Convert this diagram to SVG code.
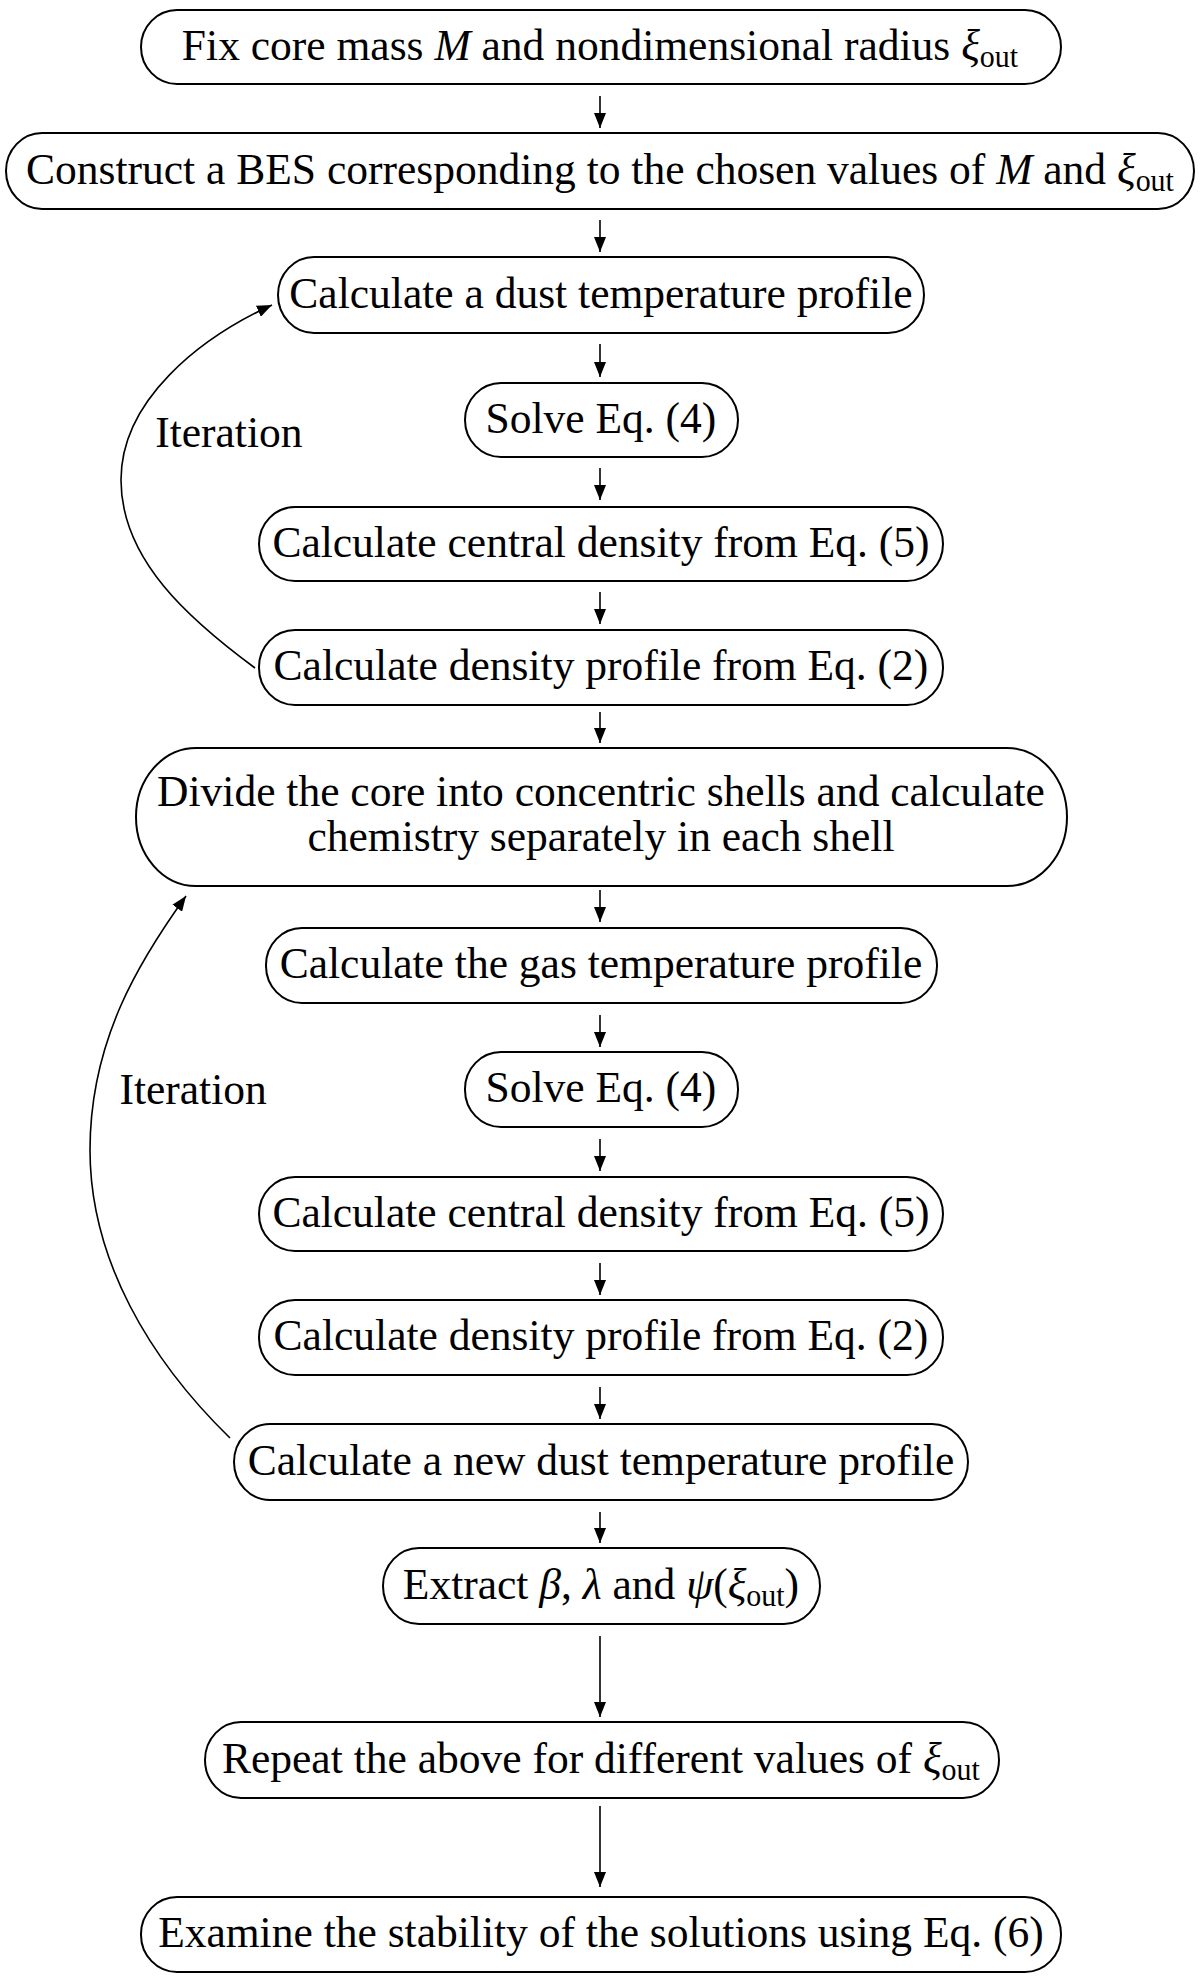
<svg xmlns="http://www.w3.org/2000/svg" width="1200" height="1976" viewBox="0 0 1200 1976">
<defs>
<style>
.box{fill:#fff;stroke:#000;stroke-width:2}
.t{font-family:"Liberation Serif","Times New Roman",serif;font-size:45px;fill:#000;text-anchor:middle}
.lbl{font-family:"Liberation Serif","Times New Roman",serif;font-size:45px;fill:#000}
.i{font-style:italic}
.s{font-size:31px}
.c{fill:none;stroke:#000;stroke-width:1.6}
</style>
<marker id="ah" markerUnits="userSpaceOnUse" markerWidth="16" markerHeight="12" refX="15" refY="6" orient="auto">
<path d="M0,0 L15,6 L0,12 Z" fill="#000"/>
</marker>
</defs>
<rect width="1200" height="1976" fill="#fff"/>
<g id="connectors">
<line class="c" x1="600" y1="96" x2="600" y2="128" marker-end="url(#ah)"/>
<line class="c" x1="600" y1="220" x2="600" y2="252" marker-end="url(#ah)"/>
<line class="c" x1="600" y1="344" x2="600" y2="377" marker-end="url(#ah)"/>
<line class="c" x1="600" y1="468" x2="600" y2="500" marker-end="url(#ah)"/>
<line class="c" x1="600" y1="592" x2="600" y2="624" marker-end="url(#ah)"/>
<line class="c" x1="600" y1="712" x2="600" y2="743" marker-end="url(#ah)"/>
<line class="c" x1="600" y1="890" x2="600" y2="922" marker-end="url(#ah)"/>
<line class="c" x1="600" y1="1015" x2="600" y2="1047" marker-end="url(#ah)"/>
<line class="c" x1="600" y1="1139" x2="600" y2="1171" marker-end="url(#ah)"/>
<line class="c" x1="600" y1="1263" x2="600" y2="1295" marker-end="url(#ah)"/>
<line class="c" x1="600" y1="1387" x2="600" y2="1419" marker-end="url(#ah)"/>
<line class="c" x1="600" y1="1512" x2="600" y2="1543" marker-end="url(#ah)"/>
<line class="c" x1="600" y1="1636" x2="600" y2="1717" marker-end="url(#ah)"/>
<line class="c" x1="600" y1="1806" x2="600" y2="1887" marker-end="url(#ah)"/>
<path class="c" d="M255,668 C190,620 121,560 121,480 C121,400 200,338 272,305" marker-end="url(#ah)"/>
<path class="c" d="M230,1438 C150,1360 90,1260 90,1150 C90,1040 140,960 186,896" marker-end="url(#ah)"/>
<text class="lbl" x="140" y="447" transform="matrix(0.967 0 0 1 19.8 0)">Iteration</text>
<text class="lbl" x="103" y="1104" transform="matrix(0.967 0 0 1 19.8 0)">Iteration</text>
</g>
<g id="n1"><rect class="box" x="141" y="10" width="920" height="74" rx="36" ry="37"/>
<text class="t" x="600" y="60" transform="matrix(0.967 0 0 1 19.8 0)">Fix core mass <tspan class="i">M</tspan> and nondimensional radius <tspan class="i">ξ</tspan><tspan class="s" dy="7">out</tspan></text></g>
<g id="n2"><rect class="box" x="6" y="133" width="1188" height="76" rx="36" ry="38"/>
<text class="t" x="600" y="184" transform="matrix(0.967 0 0 1 19.8 0)">Construct a BES corresponding to the chosen values of <tspan class="i">M</tspan> and <tspan class="i">ξ</tspan><tspan class="s" dy="7">out</tspan></text></g>
<g id="n3"><rect class="box" x="278" y="257" width="646" height="76" rx="36" ry="38"/>
<text class="t" x="601" y="308" transform="matrix(0.967 0 0 1 19.8 0)">Calculate a dust temperature profile</text></g>
<g id="n4"><rect class="box" x="465" y="383" width="273" height="74" rx="36" ry="37"/>
<text class="t" x="601" y="433" transform="matrix(0.967 0 0 1 19.8 0)">Solve Eq. (4)</text></g>
<g id="n5"><rect class="box" x="259" y="507" width="684" height="74" rx="36" ry="37"/>
<text class="t" x="601" y="557" transform="matrix(0.967 0 0 1 19.8 0)">Calculate central density from Eq. (5)</text></g>
<g id="n6"><rect class="box" x="259" y="630" width="684" height="75" rx="36" ry="37"/>
<text class="t" x="601" y="680" transform="matrix(0.967 0 0 1 19.8 0)">Calculate density profile from Eq. (2)</text></g>
<g id="n7"><rect class="box" x="136" y="748" width="931" height="138" rx="60" ry="69"/>
<text class="t" x="601" y="806" transform="matrix(0.967 0 0 1 19.8 0)">Divide the core into concentric shells and calculate</text>
<text class="t" x="601" y="851" transform="matrix(0.967 0 0 1 19.8 0)">chemistry separately in each shell</text></g>
<g id="n8"><rect class="box" x="266" y="928" width="671" height="75" rx="36" ry="37"/>
<text class="t" x="601" y="978" transform="matrix(0.967 0 0 1 19.8 0)">Calculate the gas temperature profile</text></g>
<g id="n9"><rect class="box" x="465" y="1052" width="273" height="75" rx="36" ry="37"/>
<text class="t" x="601" y="1102" transform="matrix(0.967 0 0 1 19.8 0)">Solve Eq. (4)</text></g>
<g id="n10"><rect class="box" x="259" y="1177" width="684" height="74" rx="36" ry="37"/>
<text class="t" x="601" y="1227" transform="matrix(0.967 0 0 1 19.8 0)">Calculate central density from Eq. (5)</text></g>
<g id="n11"><rect class="box" x="259" y="1300" width="684" height="75" rx="36" ry="37"/>
<text class="t" x="601" y="1350" transform="matrix(0.967 0 0 1 19.8 0)">Calculate density profile from Eq. (2)</text></g>
<g id="n12"><rect class="box" x="234" y="1424" width="734" height="76" rx="36" ry="38"/>
<text class="t" x="601" y="1475" transform="matrix(0.967 0 0 1 19.8 0)">Calculate a new dust temperature profile</text></g>
<g id="n13"><rect class="box" x="383" y="1548" width="437" height="76" rx="36" ry="38"/>
<text class="t" x="601" y="1599" transform="matrix(0.967 0 0 1 19.8 0)">Extract <tspan class="i">β</tspan>, <tspan class="i">λ</tspan> and <tspan class="i">ψ</tspan>(<tspan class="i">ξ</tspan><tspan class="s" dy="7">out</tspan><tspan dy="-7">)</tspan></text></g>
<g id="n14"><rect class="box" x="205" y="1722" width="794" height="76" rx="36" ry="38"/>
<text class="t" x="601" y="1773" transform="matrix(0.967 0 0 1 19.8 0)">Repeat the above for different values of <tspan class="i">ξ</tspan><tspan class="s" dy="7">out</tspan></text></g>
<g id="n15"><rect class="box" x="141" y="1897" width="920" height="75" rx="36" ry="37"/>
<text class="t" x="601" y="1947" transform="matrix(0.967 0 0 1 19.8 0)">Examine the stability of the solutions using Eq. (6)</text></g>
</svg>
